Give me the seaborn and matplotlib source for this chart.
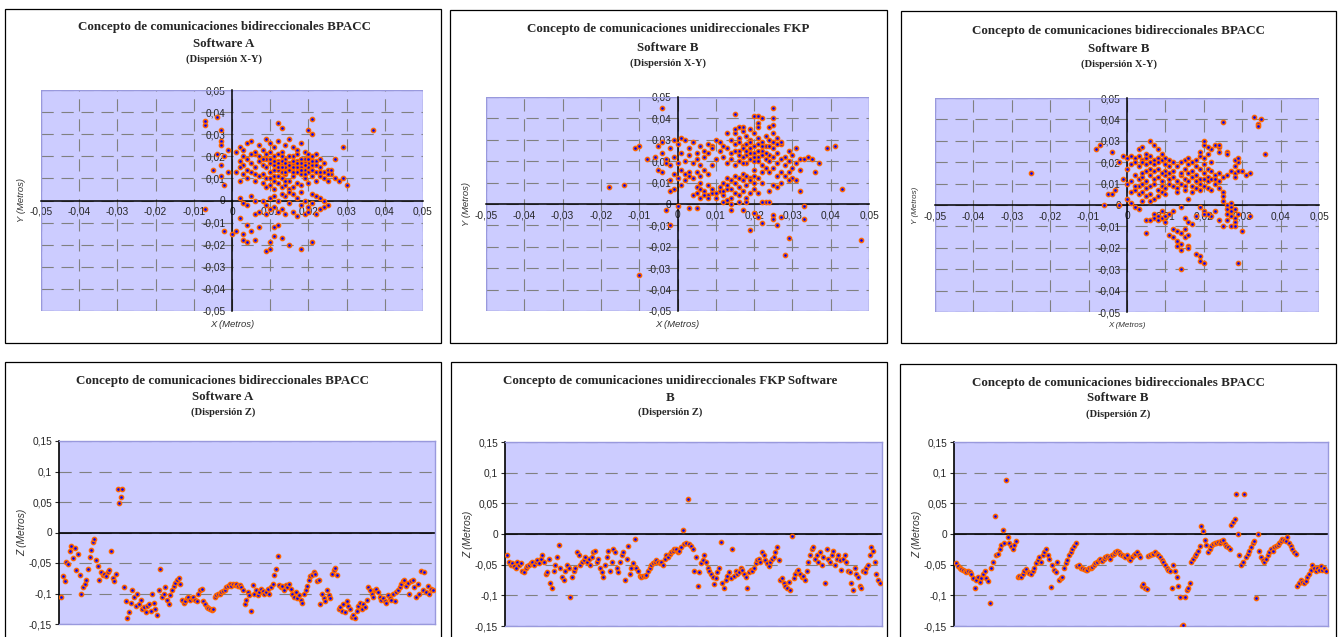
import numpy as np
import matplotlib
matplotlib.use('Agg')
import matplotlib.pyplot as plt
import seaborn as sns
from matplotlib.patches import Rectangle
from matplotlib.ticker import MultipleLocator, FuncFormatter

# XY dispersion points, millimetres (x, y)
xy_bpacc_a = [
    (1, 22), (2, 24), (3, 20), (4, 26), (5, 27), (6, 21), (7, 25), (8, 23), (9, 28), (10, 26),
    (11, 24), (12, 27), (13, 22), (14, 25), (15, 28), (16, 24), (17, 23), (18, 26), (19, 22), (20, 21),
    (2, 18), (3, 16), (4, 19), (5, 17), (6, 15), (7, 18), (8, 16), (9, 19), (10, 17), (11, 20),
    (12, 18), (13, 16), (14, 19), (15, 17), (16, 20), (17, 18), (18, 15), (19, 19), (20, 17), (21, 16),
    (22, 18), (23, 15), (24, 13), (25, 14), (26, 12), (22, 21), (23, 19), (21, 20), (19, 14), (17, 13),
    (8, 12), (9, 10), (10, 13), (11, 11), (12, 14), (13, 10), (14, 12), (15, 9), (16, 11), (17, 8),
    (18, 12), (19, 10), (20, 13), (21, 11), (22, 9), (23, 11), (24, 10), (25, 9), (20, 8), (18, 7),
    (3, 12), (4, 10), (5, 13), (6, 9), (7, 11), (8, 8), (9, 6), (10, 7), (11, 5), (12, 8),
    (13, 6), (14, 7), (15, 5), (16, 6), (14, 15), (13, 18), (12, 21), (11, 16), (10, 19), (9, 15),
    (10, 22), (11, 14), (12, 17), (13, 20), (14, 17), (15, 14), (16, 16), (15, 20), (16, 18), (17, 21),
    (18, 19), (19, 17), (20, 15), (21, 14), (22, 13), (7, 20), (6, 22), (5, 21), (4, 14), (3, 23),
    (1, 13), (2, 9), (2, 15), (6, 12), (8, 19), (9, 21), (11, 9), (12, 11), (13, 13), (14, 9),
    (16, 13), (17, 15), (18, 17), (19, 12), (20, 19), (21, 18), (22, 16), (23, 13), (24, 17), (25, 12),
    (10, 10), (11, 18), (12, 15), (13, 15), (14, 13), (15, 16), (16, 15), (17, 17), (18, 14), (19, 16),
    (8, 0), (9, -2), (10, 1), (11, -3), (12, 0), (13, -4), (14, 2), (15, -1), (16, -5), (17, 1),
    (18, -2), (19, 0), (20, -3), (21, -1), (22, 2), (23, -4), (24, 0), (25, -2), (17, -7), (19, -6),
    (20, -5), (22, -6), (21, 3), (18, 4), (16, 3), (14, -6), (12, -5), (10, -4), (23, 1), (15, 4),
    (13, 3), (11, 2), (9, -6), (7, -5), (6, 0), (5, 2), (3, -1), (4, -2), (2, 1), (24, -3),
    (3, -18), (4, -19), (3, -15), (1, -14), (2, -8), (4, -11), (5, -14), (6, -18), (6, -6), (7, -12),
    (11, -12), (11, -16), (12, -11), (13, -17), (9, -23), (10, -22), (10, -19), (15, -20), (18, -22), (21, -19),
    (-7, 34), (-7, 36), (-4, 38), (-3, 32), (-3, 27), (-3, 25), (-5, 14), (-3, 16), (-4, 21), (-2, 20),
    (-1, 23), (-7, -4), (-2, -14), (0, -15), (-3, 11), (-2, 7), (-1, 13), (37, 32), (29, 24), (30, 7),
    (29, 10), (27, 19), (27, 10), (21, 37), (12, 35), (13, 33), (20, 32), (21, 30), (26, 14), (28, 9),
]

xy_fkp_b = [
    (-5, 27), (-4, 24), (-3, 21), (-5, 16), (-4, 15), (-2, 18), (-1, 22), (-3, 19), (-6, 22), (-4, 29),
    (-2, 26), (-1, 30), (0, 28), (1, 31), (2, 30), (3, 26), (4, 29), (5, 24), (6, 27), (7, 22),
    (1, 24), (2, 20), (3, 23), (4, 19), (5, 21), (6, 18), (7, 25), (8, 28), (0, 19), (1, 16),
    (2, 14), (3, 15), (4, 12), (5, 15), (6, 13), (7, 16), (8, 14), (9, 18), (0, 12), (-1, 14),
    (-2, 11), (-1, 7), (-2, 6), (1, 9), (2, 11), (3, 13), (8, 24), (9, 27), (10, 21), (11, 25),
    (12, 22), (13, 26), (14, 24), (15, 28), (16, 25), (17, 27), (18, 23), (19, 26), (20, 24), (21, 28),
    (22, 25), (23, 27), (24, 23), (25, 26), (26, 24), (27, 28), (28, 22), (29, 25), (30, 23), (31, 26),
    (13, 19), (14, 21), (15, 18), (16, 20), (17, 22), (18, 19), (19, 21), (20, 20), (21, 22), (22, 18),
    (23, 21), (24, 20), (25, 22), (26, 19), (27, 21), (28, 18), (29, 20), (30, 17), (31, 19), (32, 21),
    (14, 30), (15, 33), (16, 31), (17, 34), (18, 32), (19, 30), (20, 33), (21, 31), (22, 29), (23, 32),
    (24, 30), (25, 33), (26, 31), (27, 29), (18, 28), (19, 29), (20, 27), (21, 25), (16, 29), (17, 26),
    (22, 27), (23, 24), (24, 27), (25, 29), (26, 28), (20, 22), (21, 20), (22, 23), (19, 24), (18, 25),
    (13, 33), (12, 27), (11, 29), (10, 30), (9, 26), (15, 25), (16, 23), (17, 19), (23, 17), (25, 17),
    (27, 15), (28, 13), (29, 15), (30, 12), (31, 11), (26, 13), (24, 15), (22, 15), (20, 16), (32, 16),
    (4, 4), (5, 5), (6, 3), (7, 6), (8, 4), (9, 5), (10, 3), (11, 6), (12, 4), (13, 7),
    (5, 8), (6, 7), (7, 4), (8, 3), (9, 7), (10, 5), (11, 8), (12, 6), (13, 9), (14, 7),
    (15, 10), (16, 8), (17, 11), (18, 9), (19, 12), (20, 10), (14, 11), (15, 13), (16, 12), (17, 14),
    (18, 13), (19, 11), (20, 13), (21, 12), (22, 10), (12, 10), (13, 12), (14, 3), (15, 5), (16, 4),
    (17, 6), (18, 3), (19, 5), (12, 1), (13, 2), (14, 0), (16, 1), (18, 1), (20, 7), (21, 5),
    (23, 1), (24, 1), (22, 1), (25, 9), (27, 10), (29, 11), (26, 8), (24, 6), (6, 10), (8, 9),
    (0, -1), (-3, -3), (3, -2), (5, -2), (14, -3), (17, -3), (19, -12), (20, -4), (21, -6), (22, -9),
    (25, -5), (25, -7), (26, -10), (27, -6), (29, -16), (28, -24), (33, -7), (33, -1), (48, -17), (-10, -33),
    (-2, -10), (-18, 8), (-14, 9), (-11, 26), (-10, 27), (-8, 21), (-4, 45), (41, 27), (39, 26), (43, 7),
    (37, 19), (36, 15), (34, 22), (33, 21), (32, 6), (35, 21), (15, 42), (20, 41), (21, 41), (21, 38),
    (22, 40), (21, 36), (25, 45), (25, 40), (25, 37), (24, 36), (17, 36), (16, 36), (15, 35), (19, 35),
]

xy_bpacc_b = [
    (0, 22), (1, 23), (2, 22), (3, 23), (4, 21), (5, 22), (6, 23), (7, 21), (8, 22), (9, 21),
    (1, 19), (2, 20), (3, 18), (4, 20), (5, 19), (6, 20), (7, 19), (8, 20), (9, 24), (10, 22),
    (3, 26), (4, 27), (6, 30), (7, 28), (8, 26), (5, 24), (10, 19), (11, 21), (12, 20), (11, 18),
    (2, 14), (3, 12), (4, 13), (5, 11), (6, 14), (7, 12), (8, 13), (9, 11), (10, 14), (11, 12),
    (12, 13), (13, 11), (14, 14), (15, 12), (16, 15), (17, 13), (18, 14), (19, 12), (20, 15), (21, 13),
    (3, 9), (4, 10), (5, 8), (6, 9), (7, 10), (8, 7), (9, 9), (10, 8), (11, 10), (12, 9),
    (13, 8), (14, 10), (15, 9), (16, 11), (17, 9), (18, 11), (19, 10), (20, 12), (21, 11), (22, 12),
    (1, 6), (2, 7), (3, 5), (4, 6), (5, 4), (6, 5), (7, 3), (8, 4), (9, 6), (10, 5),
    (12, 16), (13, 18), (14, 15), (15, 17), (16, 19), (17, 16), (18, 18), (19, 17), (20, 19), (21, 17),
    (14, 20), (15, 21), (16, 22), (17, 20), (18, 21), (19, 23), (20, 22), (21, 24), (22, 26), (23, 28),
    (19, 25), (20, 28), (20, 30), (21, 27), (24, 27), (24, 25), (24, 28), (26, 25), (26, 24), (22, 20),
    (22, 16), (23, 14), (24, 15), (25, 13), (26, 14), (27, 16), (28, 15), (28, 13), (29, 16), (29, 20),
    (28, 21), (28, 18), (30, 16), (32, 15), (31, 14), (29, 22), (36, 24), (25, 39), (33, 41), (34, 38),
    (34, 37), (35, 40), (23, 10), (24, 8), (25, 6), (25, 4), (25, 2), (26, 0), (26, -2), (26, -4),
    (27, 1), (27, -1), (27, -3), (27, -5), (28, -6), (28, -8), (28, -2), (29, -4), (26, -7), (25, -10),
    (27, -10), (28, -10), (30, -12), (32, -5), (29, -27), (24, -7), (23, -3), (22, -5), (21, -4), (20, -3),
    (7, -4), (8, -5), (9, -6), (8, -7), (9, -3), (10, -5), (11, -4), (7, -6), (10, -8), (12, -3),
    (11, -14), (12, -11), (12, -15), (13, -12), (13, -17), (14, -13), (14, -18), (15, -15), (15, -11), (16, -14),
    (13, -19), (14, -21), (16, -19), (16, -20), (14, -30), (18, -23), (19, -24), (19, -26), (20, -27), (17, -9),
    (15, -6), (16, -8), (18, -5), (19, -1), (20, -4), (16, 3), (14, -1), (5, -13), (5, -7), (6, -7),
    (-25, 15), (-8, 26), (-7, 28), (-4, 25), (-5, 5), (-4, 5), (-6, 0), (-3, 7), (-2, 0), (-1, 12),
    (-2, 20), (-1, 23), (0, 17), (0, 10), (0, 3), (1, 1), (2, -1), (3, -2), (1, 11), (2, 9),
    (10, 16), (9, 15), (8, 17), (7, 16), (6, 17), (5, 16), (4, 15), (11, 15), (13, 6), (15, 7),
    (17, 6), (18, 8), (19, 7), (20, 9), (21, 8), (22, 7), (23, 12), (24, 11), (6, 2), (4, 2),
]

# Z dispersion per sample, millimetres
z_bpacc_a = [
    -105, -72, -80, -48, -52, -30, -22, -42, -25, -62, -35, -70, -100, -90, -85, -78, -60, -40, -28, -15,
    -10, -45, -55, -78, -65, -70, -68, -72, -65, -62, -30, -75, -80, -68, 72, 48, 58, 72, -90, -112,
    -140, -130, -115, -95, -105, -120, -100, -118, -110, -125, -122, -130, -120, -118, -128, -100, -115, -125, -135, -95,
    -60, -105, -100, -90, -110, -118, -102, -95, -88, -82, -78, -75, -85, -110, -115, -112, -108, -106, -110, -108,
    -105, -110, -112, -100, -95, -92, -112, -118, -122, -124, -125, -127, -125, -105, -102, -100, -100, -98, -96, -94,
    -90, -87, -85, -88, -84, -86, -85, -88, -86, -90, -95, -118, -110, -98, -102, -128, -86, -100, -95, -102,
    -98, -92, -96, -100, -97, -92, -100, -90, -85, -70, -60, -38, -86, -90, -88, -95, -86, -90, -85, -92,
    -100, -105, -98, -108, -103, -110, -115, -100, -95, -88, -78, -72, -70, -65, -68, -80, -78, -118, -100, -108,
    -112, -95, -103, -108, -68, -62, -58, -70, -125, -122, -128, -118, -130, -112, -120, -125, -138, -135, -140, -128,
    -120, -115, -125, -118, -122, -110, -90, -95, -100, -105, -95, -92, -98, -105, -110, -108, -112, -115, -103, -108,
    -110, -100, -112, -98, -95, -90, -85, -80, -78, -88, -82, -100, -80, -78, -90, -105, -85, -100, -63, -95,
    -65, -98, -88, -100, -92, -95,
]

z_fkp_b = [
    -35, -45, -50, -48, -52, -55, -45, -50, -48, -60, -62, -55, -52, -50, -48, -45, -50, -45, -42, -48,
    -40, -35, -45, -65, -62, -40, -80, -88, -60, -50, -38, -18, -55, -70, -75, -60, -50, -55, -103, -70,
    -60, -55, -30, -35, -50, -45, -42, -38, -45, -40, -50, -38, -30, -28, -45, -40, -55, -62, -70, -50,
    -38, -28, -60, -45, -25, -30, -55, -62, -45, -35, -30, -75, -40, -20, -65, -55, -48, -8, -55, -60,
    -68, -70, -68, -69, -67, -60, -55, -50, -48, -45, -42, -46, -48, -45, -50, -40, -35, -38, -32, -30,
    -28, -25, -24, -30, -28, -22, 6, -17, -15, 57, -17, -20,
    -25, -60, -38, -84, -62, -48, -42, -35, -45, -55, -60, -65, -70, -82, -72, -62, -55, -13, -80, -88,
    -75, -68, -62, -72, -25, -68, -60, -65, -62, -55, -58, -65, -70, -88, -62, -58, -60, -55, -48, -42,
    -40, -45, -30, -35, -42, -48, -52, -45, -40, -38, -30, -22, -42, -75, -72, -80, -85, -88, -78, -92,
    -3, -72, -65, -60, -58, -65, -70, -68, -75, -60, -45, -35, -25, -22, -40, -35, -45, -30, -50, -38,
    -80, -25, -40, -45, -35, -28, -50, -40, -35, -42, -58, -40, -35, -45, -60, -62, -80, -92, -55, -65,
    -70, -85, -88, -60, -62, -55, -50, -35, -22, -28, -45, -65, -75, -80,
]

z_bpacc_b = [
    -47, -52, -55, -57, -58, -60, -62, -60, -62, -66, -72, -88, -75, -70, -78, -72, -65, -60, -72, -76,
    -113, -55, -45, 30, -35, -32, -25, -18, 6, -15, 88, -5, -15, -20, -25, -18, -12, -70, -68, -70,
    -65, -60, -57, -62, -64, -65, -60, -55, -48, -42, -38, -45, -35, -30, -25, -35, -40, -86, -50, -58,
    -62, -45, -75, -72, -70, -55, -48, -42, -35, -30, -25, -20, -15, -52, -50, -55, -56, -57, -58, -58,
    -56, -55, -54, -50, -48, -45, -42, -40, -44, -40, -38, -36, -38, -40, -35, -32, -30, -28, -30, -32,
    -34, -36, -38, -35, -40, -42, -38, -35, -32, -30, -35, -38, -85, -82, -88, -90, -36, -35, -33, -32,
    -30, -32, -35, -38, -42, -45, -50, -55, -58, -60, -88, -50, -60, -70, -85, -102, -150, -148, -102, -92,
    -88, -80, -45, -40, -36, -32, -28, -20, 13, 5, -10, -18, -30, -25, -20, -16, -15, -14, -13, -15,
    -12, -10, -16, -20, -22, -25, 14, 20, 25, 66, 0, -35, -50, -45, 66, -38, -32, -28, -22, -15,
    -12, -105, 0, -28, -38, -42, -45, -40, -35, -30, -25, -28, -22, -20, -18, -15, -12, -8, -10, -12,
    -5, -15, -20, -25, -30, -33, -85, -80, -75, -78, -80, -76, -70, -65, -58, -50, -55, -60, -55, -58,
    -52, -58, -55, -60,
]

titles = [
    ['Concepto de comunicaciones bidireccionales BPACC', 'Software A', '(Dispersión X-Y)'],
    ['Concepto de comunicaciones unidireccionales FKP', 'Software B', '(Dispersión X-Y)'],
    ['Concepto de comunicaciones bidireccionales BPACC', 'Software B', '(Dispersión X-Y)'],
    ['Concepto de comunicaciones bidireccionales BPACC', 'Software A', '(Dispersión Z)'],
    ['Concepto de comunicaciones unidireccionales FKP Software', 'B', '(Dispersión Z)'],
    ['Concepto de comunicaciones bidireccionales BPACC', 'Software B', '(Dispersión Z)'],
]

sns.set_style('white')
plt.rcParams['font.family'] = ['Liberation Sans', 'DejaVu Sans']

W, H = 1338, 637
fig = plt.figure(figsize=(W / 100, H / 100), dpi=100)

BG = '#ccccff'
GRID = '#808080'
DOT = '#0000ff'
RING = '#ff6600'
BORDER = '#9999dd'
DASH = (0, (11, 7))
DOT_S = 9
DOT_LW = 1.1
TICK_FS = 7.3


def comma(v, pos):
    v = round(v, 3)
    if v == 0:
        return '0'
    return f'{v:g}'.replace('.', ',')


def add_axes_px(x0, y0, x1, y1):
    return fig.add_axes([x0 / W, 1 - y1 / H, (x1 - x0) / W, (y1 - y0) / H])


def frame_px(x0, y0, x1, y1):
    fig.add_artist(Rectangle((x0 / W, 1 - y1 / H), (x1 - x0) / W, (y1 - y0) / H,
                             transform=fig.transFigure, fill=False, ec='black', lw=0.9))


def title_px(cx, ys, lines):
    sizes = [9.4, 9.4, 7.6]
    for y, txt, fs in zip(ys, lines, sizes):
        fig.text(cx / W, 1 - y / H, txt, ha='center', va='center', fontsize=fs,
                 fontweight='bold', family=['Liberation Serif', 'DejaVu Serif'])


def xy_panel(ax, pts, label_fs):
    arr = np.array(pts) / 1000
    ax.set_facecolor(BG)
    sns.scatterplot(x=arr[:, 0], y=arr[:, 1], ax=ax, color=DOT, edgecolor=RING,
                    linewidth=DOT_LW, s=DOT_S, legend=False, zorder=3)
    ax.set_xlim(-0.05, 0.05)
    ax.set_ylim(-0.05, 0.05)
    ax.xaxis.set_major_locator(MultipleLocator(0.01))
    ax.yaxis.set_major_locator(MultipleLocator(0.01))
    ax.xaxis.set_major_formatter(FuncFormatter(comma))
    ax.yaxis.set_major_formatter(FuncFormatter(comma))
    ax.grid(True, color=GRID, lw=0.8, linestyle=DASH)
    ax.set_axisbelow(True)
    for side in ['top', 'right']:
        ax.spines[side].set_visible(False)
    for side in ['left', 'bottom']:
        ax.spines[side].set_position('zero')
        ax.spines[side].set_color('black')
        ax.spines[side].set_linewidth(1.1)
        ax.spines[side].set_zorder(2)
    ax.tick_params(axis='both', direction='out', length=3, width=0.8, labelsize=TICK_FS, pad=1.5)
    ax.add_patch(Rectangle((0, 0), 1, 1, transform=ax.transAxes, fill=False, ec=BORDER, lw=1, zorder=1))
    ax.text(0.5, -0.063, 'X (Metros)', transform=ax.transAxes, ha='center', va='center',
            style='italic', fontsize=label_fs, color='#333333')
    ax.text(-0.05, 0.5, 'Y (Metros)', transform=ax.transAxes, ha='center', va='center',
            rotation=90, style='italic', fontsize=label_fs, color='#333333')
    ax.set_xlabel('')
    ax.set_ylabel('')


def z_panel(ax, z):
    vals = np.array(z) / 1000
    idx = np.arange(len(vals))
    ax.set_facecolor(BG)
    sns.scatterplot(x=idx, y=vals, ax=ax, color=DOT, edgecolor=RING,
                    linewidth=DOT_LW, s=DOT_S, legend=False, zorder=3)
    ax.set_xlim(-1.5, len(vals) + 0.5)
    ax.set_ylim(-0.15, 0.15)
    ax.yaxis.set_major_locator(MultipleLocator(0.05))
    ax.yaxis.set_major_formatter(FuncFormatter(comma))
    ax.set_xticks([])
    ax.yaxis.grid(True, color=GRID, lw=0.8, linestyle=DASH)
    ax.set_axisbelow(True)
    ax.axhline(0, color='black', lw=1.2, zorder=2)
    for side in ['top', 'right', 'bottom']:
        ax.spines[side].set_color(BORDER)
        ax.spines[side].set_linewidth(1)
    ax.spines['left'].set_color('black')
    ax.spines['left'].set_linewidth(1.2)
    ax.tick_params(axis='y', direction='out', length=3, width=0.8, labelsize=TICK_FS, pad=2, left=True)
    ax.text(-0.098, 0.5, 'Z (Metros)', transform=ax.transAxes, ha='center', va='center',
            rotation=90, style='italic', fontsize=7.4, color='#333333')
    ax.set_xlabel('')
    ax.set_ylabel('')


# panel frames
frame_px(5, 9, 441, 343)
frame_px(450, 10, 887, 343)
frame_px(901, 11, 1336, 343)
frame_px(5, 362, 441, 700)
frame_px(451, 362, 887, 700)
frame_px(900, 364, 1336, 700)

# titles
title_px(224, [27, 44, 59], titles[0])
title_px(668, [29, 48, 63], titles[1])
title_px(1119, [31, 49, 64], titles[2])
title_px(223, [381, 397, 412], titles[3])
title_px(670, [381, 398, 412], titles[4])
title_px(1118, [383, 398, 414], titles[5])

ax1 = add_axes_px(41, 90, 423, 311)
xy_panel(ax1, xy_bpacc_a, 6.8)
ax2 = add_axes_px(486, 97, 869, 311)
xy_panel(ax2, xy_fkp_b, 6.8)
ax3 = add_axes_px(935, 98, 1319, 312)
xy_panel(ax3, xy_bpacc_b, 5.8)

ax4 = add_axes_px(59, 441, 435, 624)
z_panel(ax4, z_bpacc_a)
ax5 = add_axes_px(505, 442, 882, 626)
z_panel(ax5, z_fkp_b)
ax6 = add_axes_px(954, 442, 1328, 626)
z_panel(ax6, z_bpacc_b)

fig.savefig('out.png', dpi=100, facecolor='white')
